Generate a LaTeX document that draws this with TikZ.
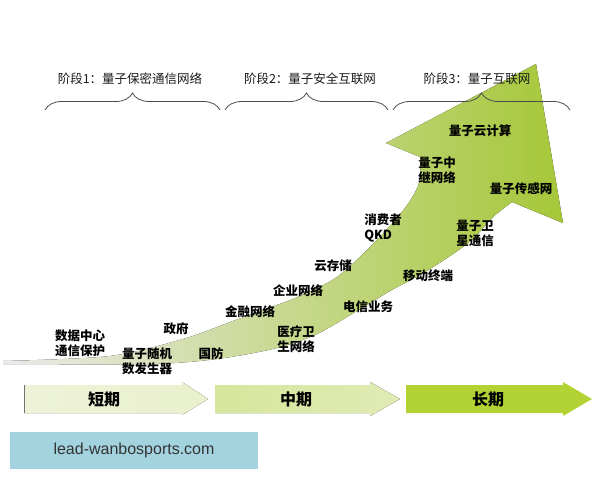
\documentclass[tikz,border=0pt]{standalone}
\usepackage{fontspec}
\newfontfamily\cjk{Noto Sans CJK SC}
\setsansfont{Liberation Sans}
\usepackage{tikz}
\usetikzlibrary{positioning, decorations.pathreplacing}
\definecolor{leafgreen}{HTML}{A6C738}
\definecolor{olivegreen}{HTML}{A4C062}
\definecolor{paleshort}{HTML}{EEF3D8}
\definecolor{palemid}{HTML}{D6E69C}
\definecolor{strongleaf}{HTML}{B3D335}
\definecolor{siteblue}{HTML}{A3D3DF}

\begin{document}
\begin{tikzpicture}[x=1pt, y=-1pt,
    tag/.style={font=\cjk\bfseries\fontsize{12.5}{15}\selectfont, align=left, inner sep=0pt},
    stage/.style={font=\cjk\fontsize{12.5}{15}\selectfont, inner sep=0pt, text=black!90},
    period/.style={font=\cjk\bfseries\fontsize{16}{18}\selectfont, inner sep=0pt},
    bracket/.style={decorate, decoration={brace, amplitude=17pt}, draw=black!70, line width=0.8pt}]
    \useasboundingbox (0,0) rectangle (600,480);

    % Growth arrow
    \fill[left color=black!8, middle color=olivegreen, right color=leafgreen]
      plot[smooth] coordinates {(3,361) (110,356) (183,339) (233,321) (277,305) (300,296) (337,277) (373,244) (405,208) (419,183) (420,157)}
      -- (386,143) -- (536,64) -- (563,223)
      -- plot[smooth] coordinates {(512,202) (493,217) (473,239) (450,256) (420,275) (390,291) (357,311) (317,334) (277,348) (217,359) (150,364) (3,364)}
      -- cycle;

    % Stages
    \coordinate (b1l) at (45,110);
    \coordinate (b1r) at (220,110);
    \coordinate (b2l) at (225,110);
    \coordinate (b2r) at (388,110);
    \coordinate (b3l) at (393,110);
    \coordinate (b3r) at (570,110);
    \draw[bracket] (b1l) -- (b1r);
    \draw[bracket] (b2l) -- (b2r);
    \draw[bracket] (b3l) -- (b3r);
    \node[stage] (stage1) at (130,79) {阶段1：量子保密通信网络};
    \node[stage] (stage2) at (310,79) {阶段2：量子安全互联网};
    \node[stage] (stage3) at (477,79) {阶段3：量子互联网};

    % Applications along the arrow
    \node[tag] (datacenter) at (80,343) {数据中心\\通信保护};
    \node[tag] (government) at (176,329) {政府};
    \node[tag] (qrng) at (147,361) {量子随机\\数发生器};
    \node[tag] (defence) at (211,354) {国防};
    \node[tag] (finance) at (250,312) {金融网络};
    \node[tag] (medical) at (296,339) {医疗卫\\生网络};
    \node[tag] (enterprise) at (298,291) {企业网络};
    \node[tag] (cloudstore) at (333,266) {云存储};
    \node[tag] (telecom) at (368,307) {电信业务};
    \node[tag] (consumer) at (383,228) {消费者\\QKD};
    \node[tag] (mobile) at (428,276) {移动终端};
    \node[tag] (satellite) at (475,233) {量子卫\\星通信};
    \node[tag] (relay) at (437,170) {量子中\\继网络};
    \node[tag] (sensing) at (521,189) {量子传感网};
    \node[tag] (cloudcomp) at (480,131) {量子云计算};

    % Time line
    \fill[left color=paleshort, right color=paleshort!80!palemid]
      (24,385) -- (182,385) -- (182,382) -- (208,399) -- (182,415) -- (182,413) -- (24,413) -- cycle;
    \draw[black!55, line width=0.8pt] (24,385) -- (24,413);
    \fill[left color=palemid, right color=palemid!60!paleshort]
      (215,385) -- (370,385) -- (370,382) -- (400,399) -- (370,416) -- (370,413) -- (215,413) -- cycle;
    \fill[strongleaf]
      (406,385) -- (563,385) -- (563,382) -- (592,399) -- (563,416) -- (563,413) -- (406,413) -- cycle;
    \node[period] (short) at (104,399) {短期};
    \node[period] (middle) at (296,399) {中期};
    \node[period] (long) at (488,399) {长期};

    \node[fill=siteblue, minimum width=248pt, minimum height=37pt, inner sep=0pt,
      font=\sffamily\fontsize{16}{18}\selectfont, text=black!80] (site) at (134,450) {lead-wanbosports.com};
\end{tikzpicture}
\end{document}
